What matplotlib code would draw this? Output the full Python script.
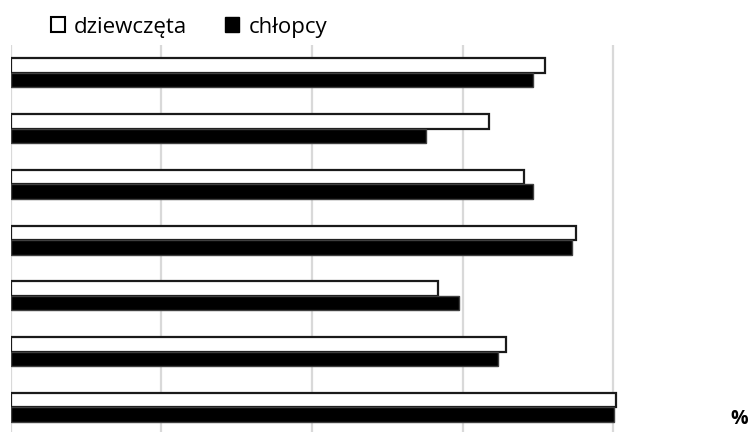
import matplotlib
matplotlib.use('Agg')
import matplotlib.pyplot as plt
from matplotlib.patches import Patch
import numpy as np

# odsetki w kolejnych pytaniach (od góry)
dziewczeta = [71.0, 63.5, 68.1, 75.0, 56.8, 65.8, 80.4]
chlopcy = [69.4, 55.1, 69.3, 74.5, 59.5, 64.7, 80.1]
x_ticks = [0, 20, 40, 60, 80]

plt.rcParams['font.family'] = ['Open Sans', 'DejaVu Sans']

fig = plt.figure(figsize=(7.52, 4.32), dpi=100)
ax = fig.add_axes([10.5 / 752, 0.0, 1 - 10.5 / 752, (432 - 45) / 432])

y = np.arange(len(dziewczeta))
h = 0.26
ax.barh(y - h / 2, dziewczeta, height=h, color='white', edgecolor='#1a1a1a',
        linewidth=1.6, zorder=3)
ax.barh(y + h / 2, chlopcy, height=h, color='black', edgecolor='#404040',
        linewidth=1.0, zorder=3)

ax.set_xlim(0, (752 - 10.5) / 150.7 * 20)
ax.set_ylim(6.44, -0.5)
ax.set_xticks(x_ticks)
ax.set_yticks([])
ax.tick_params(axis='x', length=0, labelbottom=False)
ax.grid(axis='x', color='#d9d9d9', linewidth=1.6, zorder=0)
for s in ax.spines.values():
    s.set_visible(False)

handles = [Patch(facecolor='white', edgecolor='black', linewidth=1.5, label='dziewczęta'),
           Patch(facecolor='black', edgecolor='black', label='chłopcy')]
fig.legend(handles=handles, loc='center left', bbox_to_anchor=(51 / 752, 1 - 27 / 432),
           ncol=2, frameon=False, fontsize=16, handlelength=0.64, handleheight=0.64,
           handletextpad=0.4, columnspacing=1.7, borderaxespad=0, borderpad=0)

fig.text(739 / 752, 1 - 419 / 432, '%', ha='center', va='center', fontsize=14,
         fontweight='bold')

fig.savefig('out.png', dpi=100)
